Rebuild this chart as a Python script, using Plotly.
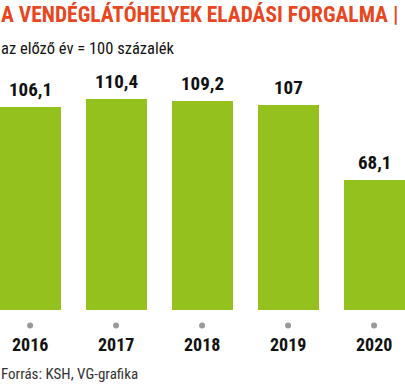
import plotly.graph_objects as go

years = ["2016", "2017", "2018", "2019", "2020"]
values = [106.1, 110.4, 109.2, 107, 68.1]
labels = ["106,1", "110,4", "109,2", "107", "68,1"]

title = "A VENDÉGLÁTÓHELYEK ELADÁSI FORGALMA |"
subtitle = "az előző év = 100 százalék"
source = "Forrás: KSH, VG-grafika"

FONT = "Liberation Sans Narrow, Roboto Condensed, Arial Narrow, Roboto, sans-serif"
GREEN = "#95c11f"

fig = go.Figure()
fig.add_trace(go.Bar(x=years, y=values, marker=dict(color=GREEN, line=dict(width=0)),
                     width=0.71, hoverinfo="skip"))
fig.add_trace(go.Scatter(x=years, y=[-8] * len(years), mode="markers",
                         marker=dict(color="#9a9a9a", size=6), cliponaxis=False,
                         hoverinfo="skip"))

annotations = []
for i, (y, v, l) in enumerate(zip(years, values, labels)):
    annotations.append(dict(x=i, y=v, xref="x", yref="y", text="<b>" + l + "</b>",
                            showarrow=False, yanchor="bottom", yshift=4,
                            font=dict(family=FONT, size=19, color="#111111")))
    annotations.append(dict(x=i, y=-18, xref="x", yref="y", text="<b>" + y + "</b>",
                            showarrow=False, yanchor="middle",
                            font=dict(family=FONT, size=18, color="#111111")))

annotations.append(dict(x=0, y=1, xref="paper", yref="paper", xanchor="left", yanchor="top",
                        xshift=-1, yshift=1, text="<b>" + title + "</b>", showarrow=False,
                        font=dict(family=FONT, size=21.5, color="#e8461e")))
annotations.append(dict(x=0, y=1, xref="paper", yref="paper", xanchor="left", yanchor="top",
                        xshift=-1, yshift=-37, text=subtitle, showarrow=False,
                        font=dict(family=FONT, size=16.5, color="#111111")))
annotations.append(dict(x=0, y=0, xref="paper", yref="paper", xanchor="left", yanchor="bottom",
                        xshift=-1, yshift=3, text=source, showarrow=False,
                        font=dict(family=FONT, size=15, color="#333333")))

fig.update_layout(
    width=405, height=388,
    margin=dict(l=0, r=0, t=0, b=0),
    paper_bgcolor="white", plot_bgcolor="white",
    showlegend=False,
    bargap=0,
    annotations=annotations,
    xaxis=dict(type="category", range=[-0.35, 4.36], showticklabels=False,
               showgrid=False, zeroline=False, showline=False, fixedrange=True),
    yaxis=dict(range=[-40.6, 162.0], domain=[0, 1], showticklabels=False, showgrid=False,
               zeroline=False, showline=False, fixedrange=True),
)

fig.write_html("out.html", config={"displayModeBar": False},
               post_script="document.body.style.margin='0';")
